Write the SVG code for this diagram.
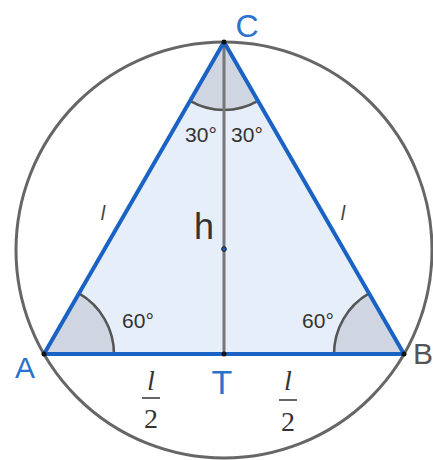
<svg xmlns="http://www.w3.org/2000/svg" width="433" height="460" viewBox="0 0 433 460">
<style>
.circ{fill:none;stroke:#666;stroke-width:3}
.sector{fill:#cfd6e2;stroke:none}
.arc{fill:none;stroke:#555;stroke-width:2.5}
.edge{fill:none;stroke:#1a63c4;stroke-width:4;stroke-linecap:round}
.alt{stroke:#777;stroke-width:3}
.pt{fill:#111}
.lbl{font-family:"Liberation Sans",Arial,sans-serif;fill:#2a72cc}
.ang{font-family:"Liberation Sans",Arial,sans-serif;font-size:21px;fill:#333}
.math{font-family:"Liberation Serif","Times New Roman",serif;fill:#333}
</style>
<g id="circle"><circle class="circ" cx="224" cy="250" r="208"/></g>
<g id="triangle">
<polygon points="44,354 404,354 224,42" fill="#e6eef9"/>
<path class="sector" d="M44,354 L114,354 A70,70 0 0 0 79,293.4 Z"/>
<path class="sector" d="M404,354 L334,354 A70,70 0 0 1 369,293.4 Z"/>
<path class="sector" d="M224,42 L190,100.9 A68,68 0 0 0 258,100.9 Z"/>
<path class="arc" d="M114,354 A70,70 0 0 0 79,293.4"/>
<path class="arc" d="M334,354 A70,70 0 0 1 369,293.4"/>
<path class="arc" d="M190,100.9 A68,68 0 0 0 258,100.9"/>
</g>
<g id="connectors">
<line class="alt" x1="224" y1="42" x2="224" y2="354"/>
<line class="edge" x1="44" y1="354" x2="404" y2="354"/>
<line class="edge" x1="44" y1="354" x2="224" y2="42"/>
<line class="edge" x1="404" y1="354" x2="224" y2="42"/>
</g>
<g id="A"><circle class="pt" cx="44" cy="354" r="2.5"/><text class="lbl" x="25" y="378" font-size="30" text-anchor="middle">A</text></g>
<g id="B"><circle class="pt" cx="404" cy="354" r="2.5"/><text x="413" y="364" font-size="30" fill="#555" font-family="Liberation Sans, Arial, sans-serif">B</text></g>
<g id="C"><circle class="pt" cx="224" cy="42" r="2.5"/><text class="lbl" x="247" y="37" font-size="32" text-anchor="middle">C</text></g>
<g id="T"><circle class="pt" cx="224" cy="354" r="2.5"/><text class="lbl" x="222" y="394" font-size="34" text-anchor="middle">T</text></g>
<g id="O"><circle cx="224" cy="249" r="2.3" fill="#1a63c4" stroke="#111" stroke-width="1"/></g>
<g id="labels">
<text class="ang" x="201" y="142" text-anchor="middle">30°</text>
<text class="ang" x="247" y="142" text-anchor="middle">30°</text>
<text class="ang" x="138" y="328" text-anchor="middle">60°</text>
<text class="ang" x="318" y="328" text-anchor="middle">60°</text>
<text x="204" y="239" font-size="36" fill="#333" font-family="Liberation Sans, Arial, sans-serif" text-anchor="middle">h</text>
<text x="103" y="220" font-size="20" fill="#444" font-style="italic" font-family="Liberation Sans, Arial, sans-serif" text-anchor="middle">l</text>
<text x="343" y="220" font-size="20" fill="#444" font-style="italic" font-family="Liberation Sans, Arial, sans-serif" text-anchor="middle">l</text>
<text class="math" x="151" y="390" font-size="28" font-style="italic" text-anchor="middle">l</text>
<line x1="142" y1="398" x2="160" y2="398" stroke="#333" stroke-width="1.5"/>
<text class="math" x="151" y="428" font-size="28" text-anchor="middle">2</text>
<text class="math" x="288" y="390" font-size="28" font-style="italic" text-anchor="middle">l</text>
<line x1="279" y1="400" x2="297" y2="400" stroke="#333" stroke-width="1.5"/>
<text class="math" x="288" y="431" font-size="28" text-anchor="middle">2</text>
</g>
</svg>
